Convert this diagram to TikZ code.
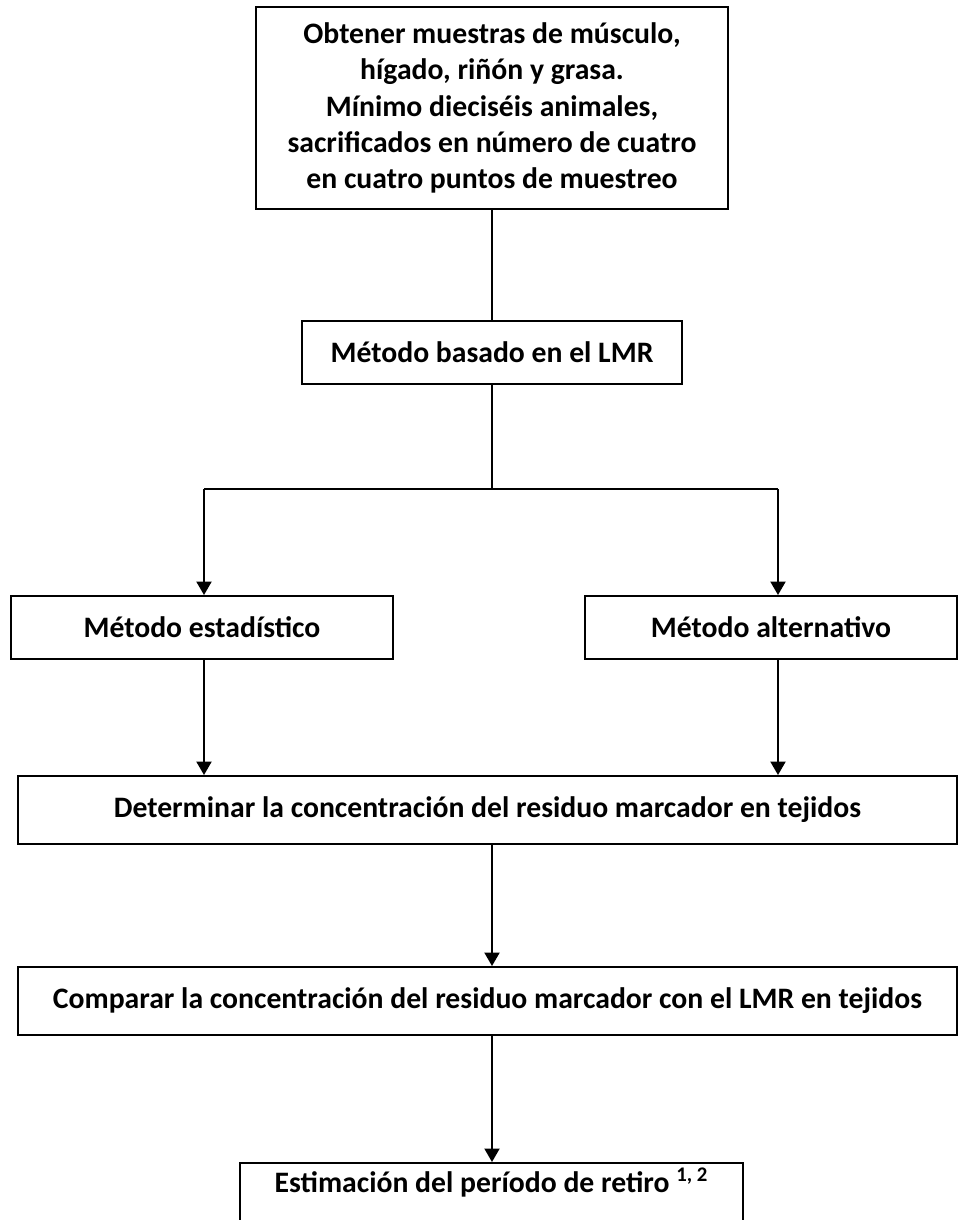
\documentclass[tikz,border=0pt]{standalone}
\usepackage{fontspec}
\setmainfont{Carlito}
\usetikzlibrary{arrows.meta}

\begin{document}
\begin{tikzpicture}[x=0.2mm, y=-0.2mm,
    box/.style={draw, line width=1.1pt, align=center, inner sep=0pt,
        font=\bfseries\fontsize{16.9}{20.6}\selectfont},
    link/.style={line width=1pt},
    arrow/.style={line width=1.2pt, -{Triangle[width=3mm, length=2.7mm]}}]
    \useasboundingbox (0, 0) rectangle (959, 1220);

    \node[box, minimum width=94.4mm, minimum height=40.4mm] (sample) at (492, 108)
        {Obtener muestras de músculo,\\ hígado, riñón y grasa.\\ Mínimo dieciséis animales,\\
         sacrificados en número de cuatro\\ en cuatro puntos de muestreo};
    \node[box, minimum width=76mm, minimum height=12.6mm] (lmr) at (492, 352.5) {Método basado en el LMR};
    \node[box, minimum width=76.4mm, minimum height=12.6mm] (stat) at (202, 627.5) {Método estadístico};
    \node[box, minimum width=74.4mm, minimum height=12.6mm] (alt) at (771, 627.5) {Método alternativo};
    \node[box, minimum width=187.8mm, minimum height=13.6mm] (det) at (487.5, 810)
        {Determinar la concentración del residuo marcador en tejidos};
    \node[box, minimum width=187.8mm, minimum height=13.6mm] (cmp) at (487.5, 1001)
        {Comparar la concentración del residuo marcador con el LMR en tejidos};
    \node[box, minimum width=100.6mm, text height=6mm, text depth=7.6mm, anchor=north] (est) at (491.5, 1162)
        {Estimación del período de retiro \textsuperscript{1, 2}};

    \coordinate (split) at (492, 489);
    \coordinate (lsplit) at (204, 489);
    \coordinate (rsplit) at (778, 489);

    \draw[link] (sample.south) -- (lmr.north);
    \draw[link] (lmr.south) -- (split);
    \draw[link] (lsplit) -- (rsplit);
    \draw[arrow] (lsplit) -- (lsplit |- stat.north);
    \draw[arrow] (rsplit) -- (rsplit |- alt.north);
    \draw[arrow] (stat.south -| lsplit) -- (lsplit |- det.north);
    \draw[arrow] (alt.south -| rsplit) -- (rsplit |- det.north);
    \draw[arrow] (det.south -| split) -- (split |- cmp.north);
    \draw[arrow] (cmp.south -| split) -- (split |- est.north);
\end{tikzpicture}
\end{document}
